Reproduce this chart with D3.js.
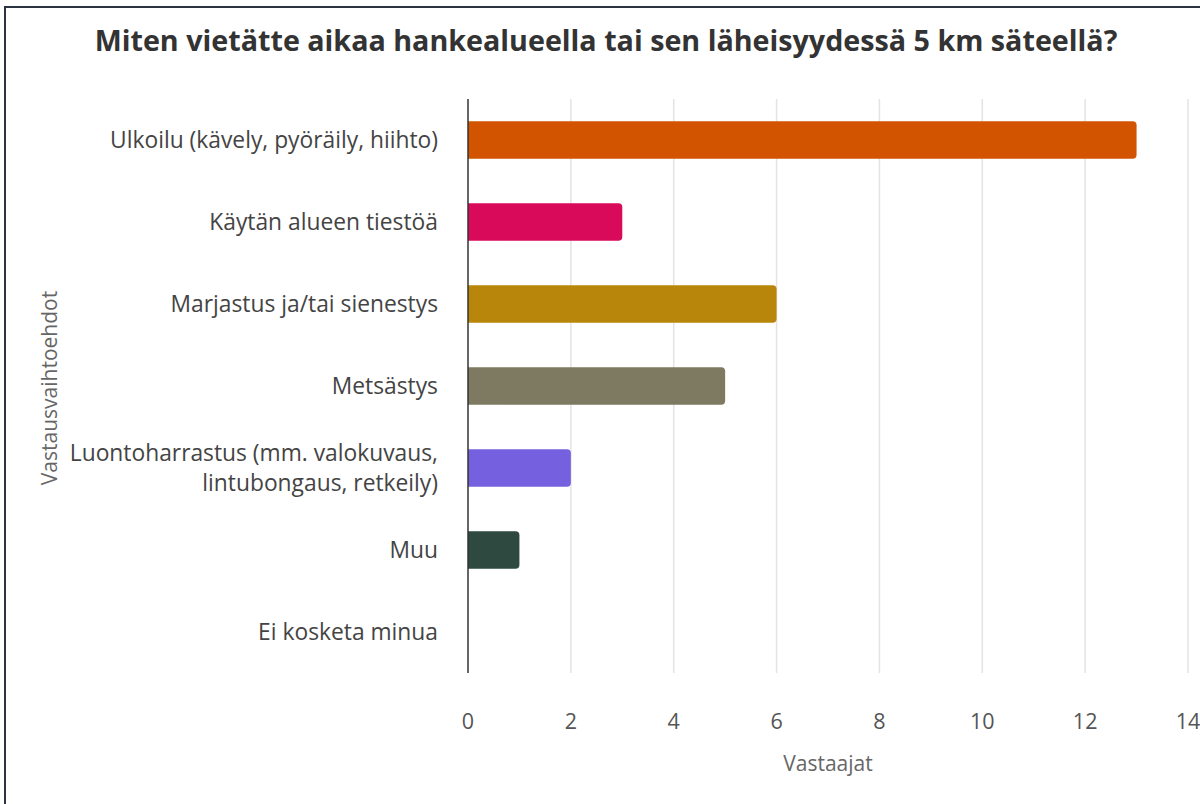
<!DOCTYPE html>
<html lang="fi">
    <head>
        <meta charset="utf-8">
        <title>Miten vietätte aikaa hankealueella</title>
        <script src="https://d3js.org/d3.v7.min.js"></script>
        <style type="text/css">
            body { margin: 0; background: #fff; }
            text { font-family: "Open Sans", "Noto Sans", sans-serif; }
        </style>
    </head>
    <body>
        <script>
            // data
            var categories = [
                "Ulkoilu (kävely, pyöräily, hiihto)",
                "Käytän alueen tiestöä",
                "Marjastus ja/tai sienestys",
                "Metsästys",
                "Luontoharrastus (mm. valokuvaus,|lintubongaus, retkeily)",
                "Muu",
                "Ei kosketa minua"
            ];
            var values = [13, 3, 6, 5, 2, 1, 0];
            var colors = ["#d35400", "#da0a5b", "#b8860b", "#7e7a62", "#7561df", "#2e4a40", "#888888"];
            var xTicks = [0, 2, 4, 6, 8, 10, 12, 14];

            var title = "Miten vietätte aikaa hankealueella tai sen läheisyydessä 5 km säteellä?";
            var xTitle = "Vastaajat";
            var yTitle = "Vastausvaihtoehdot";

            // layout
            var outerWidth = 1200;
            var outerHeight = 804;
            var plot = { left: 468, right: 1188, top: 99, bottom: 673 };

            var svg = d3.select("body")
                        .append("svg")
                        .attr("width", outerWidth)
                        .attr("height", outerHeight);

            // frame
            svg.append("path")
                .attr("d", "M5," + outerHeight + " V7 H" + outerWidth)
                .attr("fill", "none")
                .attr("stroke", "#2b3440")
                .attr("stroke-width", 2);

            var xScale = d3.scaleLinear().domain([0, 14]).range([plot.left, plot.right]);
            var yScale = d3.scaleBand()
                .domain(categories)
                .range([plot.top, plot.bottom])
                .paddingInner(0.54)
                .paddingOuter(0.27);

            // grid
            svg.append("g").selectAll("line")
                .data(xTicks.slice(1))
                .enter().append("line")
                .attr("x1", function (d) { return xScale(d); })
                .attr("x2", function (d) { return xScale(d); })
                .attr("y1", plot.top)
                .attr("y2", plot.bottom)
                .attr("stroke", "#e3e3e3")
                .attr("stroke-width", 1.5);

            // bars with rounded ends
            var r = 4;
            svg.append("g").selectAll("path")
                .data(values.map(function (v, i) { return { cat: categories[i], v: v, c: colors[i] }; })
                      .filter(function (d) { return d.v > 0; }))
                .enter().append("path")
                .attr("fill", function (d) { return d.c; })
                .attr("d", function (d) {
                    var x0 = xScale(0), x1 = xScale(d.v);
                    var y0 = yScale(d.cat), h = yScale.bandwidth();
                    return "M" + x0 + "," + y0 +
                        " H" + (x1 - r) +
                        " Q" + x1 + "," + y0 + " " + x1 + "," + (y0 + r) +
                        " V" + (y0 + h - r) +
                        " Q" + x1 + "," + (y0 + h) + " " + (x1 - r) + "," + (y0 + h) +
                        " H" + x0 + " Z";
                });

            // zero axis line
            svg.append("line")
                .attr("x1", xScale(0)).attr("x2", xScale(0))
                .attr("y1", plot.top).attr("y2", plot.bottom)
                .attr("stroke", "#333")
                .attr("stroke-width", 1.5);

            // category labels
            var labels = svg.append("g").selectAll("text")
                .data(categories)
                .enter().append("text")
                .attr("text-anchor", "end")
                .attr("fill", "#444")
                .style("font-size", "22.8px")
                .attr("x", 438)
                .attr("y", function (d) { return yScale(d) + yScale.bandwidth() / 2; });

            labels.each(function (d) {
                var lines = d.split("|");
                var t = d3.select(this);
                lines.forEach(function (line, i) {
                    t.append("tspan")
                        .attr("x", 438)
                        .attr("dy", i === 0 ? ((-(lines.length - 1) * 15 + 8) + "px") : "30px")
                        .text(line);
                });
            });

            // x tick labels
            svg.append("g").selectAll("text")
                .data(xTicks)
                .enter().append("text")
                .attr("x", function (d) { return xScale(d); })
                .attr("y", 729)
                .attr("text-anchor", "middle")
                .attr("fill", "#555")
                .style("font-size", "21.5px")
                .text(function (d) { return d; });

            // axis titles
            svg.append("text")
                .attr("x", 828)
                .attr("y", 771)
                .attr("text-anchor", "middle")
                .attr("fill", "#666")
                .style("font-size", "21px")
                .text(xTitle);

            svg.append("text")
                .attr("transform", "translate(57,388) rotate(-90)")
                .attr("text-anchor", "middle")
                .attr("fill", "#666")
                .style("font-size", "21px")
                .text(yTitle);

            // title
            svg.append("text")
                .attr("x", 606)
                .attr("y", 51)
                .attr("text-anchor", "middle")
                .attr("fill", "#333")
                .style("font-size", "28.7px")
                .style("font-weight", "bold")
                .text(title);
        </script>
    </body>
</html>
